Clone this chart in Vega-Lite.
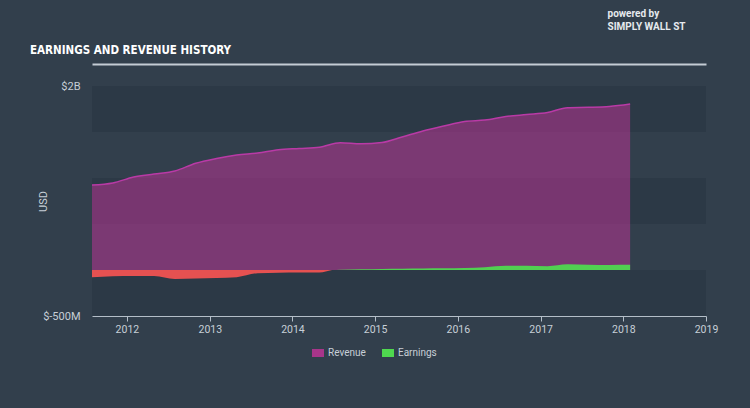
{
  "$schema": "https://vega.github.io/schema/vega-lite/v6.json",
  "width": 614,
  "height": 230,
  "autosize": {"type": "none"},
  "padding": {"left": 92, "top": 86, "right": 44, "bottom": 92},
  "background": "#323f4c",
  "title": {
    "text": "EARNINGS AND REVENUE HISTORY",
    "anchor": "start",
    "frame": "group",
    "dx": -62,
    "dy": 53,
    "offset": 5,
    "font": "DejaVu Sans Condensed",
    "fontSize": 11.5,
    "fontWeight": "bold",
    "color": "#ffffff"
  },
  "config": {
    "view": {"stroke": null},
    "axis": {
      "labelColor": "#c7cfd7",
      "labelFont": "Roboto",
      "labelFontSize": 11,
      "titleColor": "#c7cfd7",
      "titleFont": "Roboto",
      "titleFontWeight": "normal",
      "titleFontSize": 11,
      "grid": false
    },
    "legend": {
      "labelColor": "#c7cfd7",
      "labelFont": "Roboto",
      "labelFontSize": 10
    }
  },
  "datasets": {
    "bands": [
      {"value": 1500000000, "value_end": 2000000000},
      {"value": 500000000, "value_end": 1000000000},
      {"value": -500000000, "value_end": 0}
    ],
    "revenue": [
      {"date": "2011-07-31", "series": "Revenue", "value": 924000000},
      {"date": "2011-10-31", "series": "Revenue", "value": 946000000},
      {"date": "2012-01-31", "series": "Revenue", "value": 1011000000},
      {"date": "2012-04-30", "series": "Revenue", "value": 1043000000},
      {"date": "2012-07-31", "series": "Revenue", "value": 1076000000},
      {"date": "2012-10-31", "series": "Revenue", "value": 1160000000},
      {"date": "2013-01-31", "series": "Revenue", "value": 1212000000},
      {"date": "2013-04-30", "series": "Revenue", "value": 1250000000},
      {"date": "2013-07-31", "series": "Revenue", "value": 1272000000},
      {"date": "2013-10-31", "series": "Revenue", "value": 1308000000},
      {"date": "2014-01-31", "series": "Revenue", "value": 1321000000},
      {"date": "2014-04-30", "series": "Revenue", "value": 1334000000},
      {"date": "2014-07-31", "series": "Revenue", "value": 1384000000},
      {"date": "2014-10-31", "series": "Revenue", "value": 1373000000},
      {"date": "2015-01-31", "series": "Revenue", "value": 1386000000},
      {"date": "2015-04-30", "series": "Revenue", "value": 1446000000},
      {"date": "2015-07-31", "series": "Revenue", "value": 1511000000},
      {"date": "2015-10-31", "series": "Revenue", "value": 1565000000},
      {"date": "2016-01-31", "series": "Revenue", "value": 1614000000},
      {"date": "2016-04-30", "series": "Revenue", "value": 1630000000},
      {"date": "2016-07-31", "series": "Revenue", "value": 1668000000},
      {"date": "2016-10-31", "series": "Revenue", "value": 1690000000},
      {"date": "2017-01-31", "series": "Revenue", "value": 1712000000},
      {"date": "2017-04-30", "series": "Revenue", "value": 1764000000},
      {"date": "2017-07-31", "series": "Revenue", "value": 1768000000},
      {"date": "2017-10-31", "series": "Revenue", "value": 1777000000},
      {"date": "2018-01-31", "series": "Revenue", "value": 1804000000}
    ],
    "earnings": [
      {"date": "2011-07-31", "series": "Loss", "value": -80000000},
      {"date": "2011-10-31", "series": "Loss", "value": -68000000},
      {"date": "2012-01-31", "series": "Loss", "value": -65000000},
      {"date": "2012-04-30", "series": "Loss", "value": -66000000},
      {"date": "2012-07-31", "series": "Loss", "value": -97000000},
      {"date": "2012-10-31", "series": "Loss", "value": -92000000},
      {"date": "2013-01-31", "series": "Loss", "value": -87000000},
      {"date": "2013-04-30", "series": "Loss", "value": -78000000},
      {"date": "2013-07-31", "series": "Loss", "value": -35000000},
      {"date": "2013-10-31", "series": "Loss", "value": -30000000},
      {"date": "2014-01-31", "series": "Loss", "value": -28000000},
      {"date": "2014-04-30", "series": "Loss", "value": -26000000},
      {"date": "2014-06-25", "series": "Loss", "value": 0},
      {"date": "2014-06-25", "series": "Earnings", "value": 0},
      {"date": "2014-07-31", "series": "Earnings", "value": 4000000},
      {"date": "2014-10-31", "series": "Earnings", "value": 8000000},
      {"date": "2015-01-31", "series": "Earnings", "value": 12000000},
      {"date": "2015-04-30", "series": "Earnings", "value": 14000000},
      {"date": "2015-07-31", "series": "Earnings", "value": 16000000},
      {"date": "2015-10-31", "series": "Earnings", "value": 18000000},
      {"date": "2016-01-31", "series": "Earnings", "value": 21000000},
      {"date": "2016-04-30", "series": "Earnings", "value": 30000000},
      {"date": "2016-07-31", "series": "Earnings", "value": 45000000},
      {"date": "2016-10-31", "series": "Earnings", "value": 45000000},
      {"date": "2017-01-31", "series": "Earnings", "value": 42000000},
      {"date": "2017-04-30", "series": "Earnings", "value": 62000000},
      {"date": "2017-07-31", "series": "Earnings", "value": 57000000},
      {"date": "2017-10-31", "series": "Earnings", "value": 55000000},
      {"date": "2018-01-31", "series": "Earnings", "value": 56000000}
    ]
  },
  "layer": [
    {
      "data": {"name": "bands"},
      "mark": {"type": "rect", "color": "#2c3946"},
      "encoding": {
        "y": {
          "field": "value", "type": "quantitative", "title": "USD",
          "scale": {"domain": [-500000000, 2000000000], "nice": false, "zero": false},
          "axis": {
            "values": [-500000000, 2000000000],
            "labelExpr": "datum.value > 0 ? '$2B' : '$-500M'",
            "ticks": false, "domain": false, "labelPadding": 12,
            "labelFlush": false, "labelOverlap": false,
            "titleX": -44
          }
        },
        "y2": {"field": "value_end"}
      }
    },
    {
      "data": {"name": "revenue"},
      "mark": {"type": "area", "fillOpacity": 0.62, "interpolate": "monotone"},
      "encoding": {
        "x": {
          "field": "date", "type": "temporal",
          "scale": {"type": "utc", "domain": [{"year": 2011, "month": 7, "date": 31, "utc": true}, {"year": 2019, "month": 1, "date": 1, "utc": true}]},
          "axis": {
            "title": null, "format": "%Y", "formatType": "utc",
            "values": [
              {"year": 2012, "utc": true}, {"year": 2013, "utc": true}, {"year": 2014, "utc": true},
              {"year": 2015, "utc": true}, {"year": 2016, "utc": true}, {"year": 2017, "utc": true},
              {"year": 2018, "utc": true}, {"year": 2019, "utc": true}
            ],
            "domainColor": "#b4bec8", "tickColor": "#b4bec8", "tickSize": 5, "labelPadding": 3,
            "labelFontSize": 10.5, "labelFlush": false
          }
        },
        "y": {"field": "value", "type": "quantitative", "title": "USD", "stack": null,
              "scale": {"domain": [-500000000, 2000000000], "nice": false, "zero": false}},
        "color": {
          "field": "series", "type": "nominal",
          "scale": {"domain": ["Revenue", "Earnings", "Loss"], "range": ["#a8358a", "#4fd84f", "#f05252"]},
          "legend": {
            "title": null, "orient": "none", "legendX": 221, "legendY": 262,
            "direction": "horizontal", "values": ["Revenue", "Earnings"],
            "symbolType": "M-1.5,-1H1.5V1H-1.5Z", "symbolSize": 64, "symbolOpacity": 1,
            "symbolStrokeWidth": 0, "columnPadding": 16, "labelOffset": 5, "padding": 0
          }
        }
      }
    },
    {
      "data": {"name": "revenue"},
      "mark": {"type": "line", "color": "#b93aa6", "strokeWidth": 1.5, "interpolate": "monotone"},
      "encoding": {
        "x": {"field": "date", "type": "temporal", "axis": null},
        "y": {"field": "value", "type": "quantitative", "title": "USD",
              "scale": {"domain": [-500000000, 2000000000], "nice": false, "zero": false}}
      }
    },
    {
      "data": {"name": "earnings"},
      "mark": {"type": "area", "fillOpacity": 0.95, "interpolate": "monotone"},
      "encoding": {
        "x": {
          "field": "date", "type": "temporal",
          "axis": {"orient": "top", "labels": false, "ticks": false,
                   "domain": true, "domainColor": "#c4ccd4", "domainWidth": 2, "offset": 22,
                   "title": ["powered by", "SIMPLY WALL ST"],
                   "titleX": 515, "titleY": -48, "titleAlign": "left", "titleAnchor": null,
                   "titleBaseline": "alphabetic", "titleColor": "#e6eaee",
                   "titleFont": "Roboto", "titleFontSize": 10, "titleFontWeight": "bold",
                   "titleLineHeight": 13}
        },
        "y": {"field": "value", "type": "quantitative", "title": "USD", "stack": null,
              "scale": {"domain": [-500000000, 2000000000], "nice": false, "zero": false}},
        "color": {"field": "series", "type": "nominal"}
      }
    },
    {
      "mark": {"type": "rule", "color": "#d0d6dc", "strokeWidth": 1.5, "opacity": 0.85},
      "encoding": {"y": {"datum": 0, "type": "quantitative"}}
    }
  ],
  "resolve": {"axis": {"x": "independent"}}
}
